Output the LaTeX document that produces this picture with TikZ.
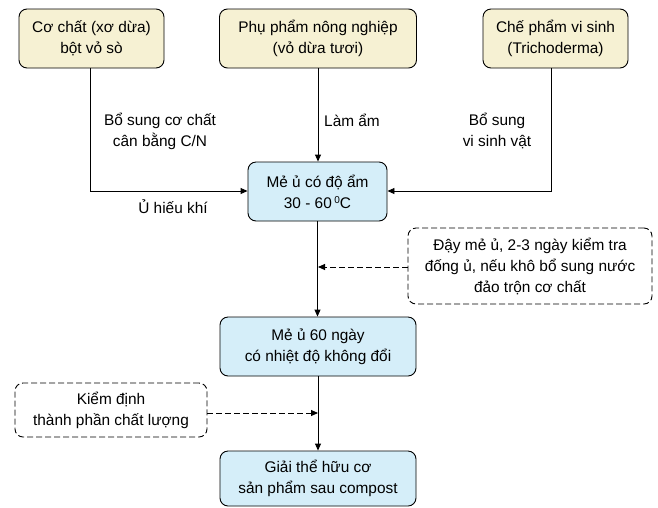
\documentclass[tikz,border=0pt]{standalone}
\usepackage{fontspec}
\setmainfont{Liberation Sans}
\usetikzlibrary{arrows.meta,calc}
\definecolor{yel}{HTML}{F6F1D3}
\definecolor{blu}{HTML}{D5EEF9}
\tikzset{
  box/.style={draw=black, line width=0.9pt, rounded corners=8pt, align=center, inner sep=0pt, font=\fontsize{15.4}{21}\selectfont},
  ybox/.style={box, fill=yel},
  bbox/.style={box, fill=blu},
  dbox/.style={box, dashed, dash pattern=on 6pt off 3pt},
  lbl/.style={align=center, font=\fontsize{15.4}{21}\selectfont},
  conn/.style={line width=0.9pt, -{Triangle[length=7pt,width=6pt]}},
  dconn/.style={conn, dash pattern=on 6pt off 3pt}
}
\begin{document}
\begin{tikzpicture}[x=1pt,y=-1pt]
\useasboundingbox (0,0) rectangle (658,507);
\node[ybox, minimum width=145pt, minimum height=59pt] (b1) at (91.5,38.5) {Cơ chất (xơ dừa)\\bột vỏ sò};
\node[ybox, minimum width=197pt, minimum height=59pt] (b2) at (318,38.5) {Phụ phẩm nông nghiệp\\(vỏ dừa tươi)};
\node[ybox, minimum width=145pt, minimum height=59pt] (b3) at (555.5,38.5) {Chế phẩm vi sinh\\(Trichoderma)};
\node[bbox, minimum width=139pt, minimum height=59pt] (b4) at (317.5,191.5) {Mẻ ủ có độ ẩm\\30 - 60\,{\fontsize{10}{10}\selectfont\raisebox{5pt}{0}}C};
\node[bbox, minimum width=196pt, minimum height=59pt] (b5) at (318,346.5) {Mẻ ủ 60 ngày\\có nhiệt độ không đổi};
\node[bbox, minimum width=196pt, minimum height=55pt] (b6) at (318,478.5) {Giải thể hữu cơ\\sản phẩm sau compost};
\node[dbox, minimum width=244pt, minimum height=76pt] (d1) at (530,266) {Đậy mẻ ủ, 2-3 ngày kiểm tra\\đống ủ, nếu khô bổ sung nước\\đảo trộn cơ chất};
\node[dbox, minimum width=192pt, minimum height=54pt] (d2) at (111,410) {Kiểm định\\thành phần chất lượng};
\node[lbl] (l1) at (160,131) {Bổ sung cơ chất\\cân bằng C/N};
\node[lbl] (l2) at (173,207) {Ủ hiếu khí};
\node[lbl] (l3) at (352,120) {Làm ẩm};
\node[lbl] (l4) at (497,131) {Bổ sung\\vi sinh vật};
\coordinate (c1) at (90,191);
\coordinate (c3) at (551,191);
\coordinate (m1) at (318,267);
\coordinate (m2) at (318,413);
\draw[conn] (b1.south -| c1) -- (c1) -- (c1 -| b4.west);
\draw[conn] (b2.south) -- (b2.south |- b4.north);
\draw[conn] (b3.south -| c3) -- (c3) -- (c3 -| b4.east);
\draw[conn] (b4.south) -- (b4.south |- b5.north);
\draw[conn] (b5.south) -- (b5.south |- b6.north);
\draw[dconn] (d1.west |- m1) -- (m1);
\draw[dconn] (d2.east |- m2) -- (m2);
\end{tikzpicture}
\end{document}
